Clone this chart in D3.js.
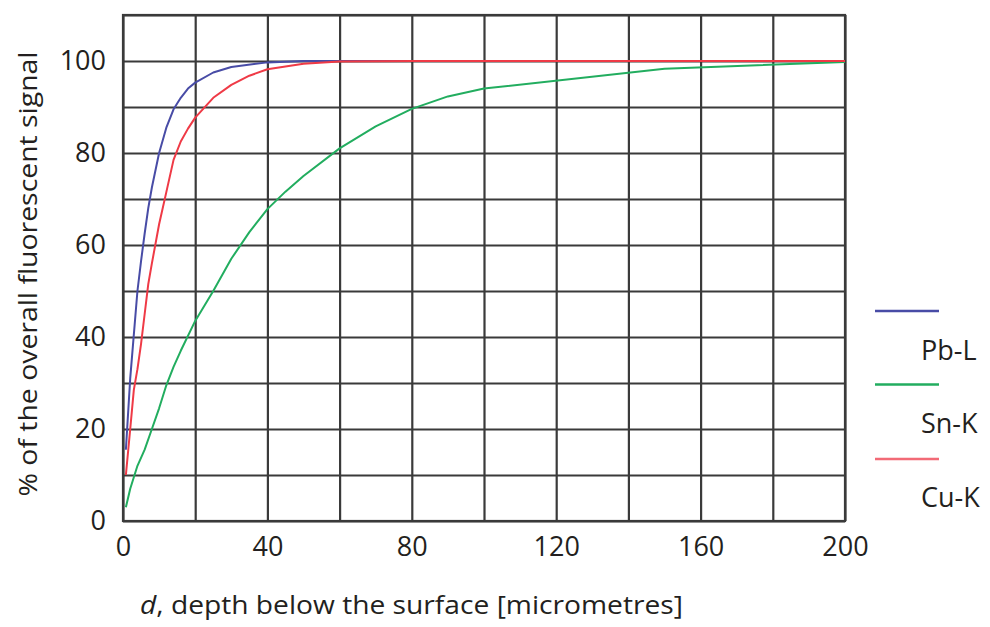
<!DOCTYPE html>
<html>
<head>
<meta charset="utf-8">
<script src="https://cdn.jsdelivr.net/npm/d3@7"></script>
<style>
  html, body { margin: 0; padding: 0; background: #fff; }
  svg { display: block; }
  text { font-family: "Open Sans", "Noto Sans", sans-serif; fill: #231f20; }
</style>
</head>
<body>
<svg id="chart" width="990" height="627"></svg>
<script>
// Depth (micrometres) and cumulative share of fluorescent signal (%) per line
const depthPb = [0.8, 2, 3, 4, 5, 6, 7, 8, 10, 12, 14, 16, 18, 20, 25, 30, 40, 50, 60, 80];
const pbL     = [15.5, 31, 40.5, 50, 56.5, 62.5, 68, 72.5, 80, 85.5, 89.5, 92, 94, 95.3, 97.5, 98.7, 99.7, 100, 100, 100];

const depthSn = [0.8, 2, 4, 6, 8, 10, 12, 14, 16, 20, 25, 30, 35, 40, 45, 50, 60, 70, 80, 90, 100, 150, 200];
const snK     = [3, 7, 12, 15.5, 20, 24.5, 29.5, 33.5, 37, 43.5, 50, 57, 62.8, 67.8, 71.6, 75, 81, 85.8, 89.6, 92.3, 94, 98.3, 99.8];

const depthCu = [0.8, 2, 3, 4, 5, 6, 7, 8, 10, 12, 14, 16, 18, 20, 25, 30, 35, 40, 50, 60, 80, 200];
const cuK     = [10, 20, 28.5, 33, 38.5, 45, 51.5, 56, 64.5, 71.5, 78.5, 82.5, 85.3, 87.7, 92, 94.8, 96.8, 98.2, 99.4, 99.9, 100, 100];

const seriesNames  = ["Pb-L", "Sn-K", "Cu-K"];
const seriesColors = ["#484ca6", "#22ad5f", "#ef3a46"];
const legendColors = ["#484ca6", "#22ad5f", "#f26a76"];

const xTickLabels = [0, 40, 80, 120, 160, 200];
const yTickLabels = [0, 20, 40, 60, 80, 100];
const xGrid = d3.range(0, 201, 20);
const yGrid = d3.range(0, 111, 10);

const xTitleLead = "d";
const xTitleRest = ", depth below the surface [micrometres]";
const yTitle = "% of the overall fluorescent signal";

const svg = d3.select("#chart");
const x = d3.scaleLinear().domain([0, 200]).range([123, 845]);
const y = d3.scaleLinear().domain([0, 110]).range([521, 15]);

const gridColor = "#3a3a3a";

// grid lines
const gx = svg.append("g").attr("transform", `translate(0,${y(0)})`)
  .call(d3.axisBottom(x).tickValues(xGrid).tickSize(-(y(0) - y(110))).tickFormat(""));
const gy = svg.append("g").attr("transform", `translate(${x(0)},0)`)
  .call(d3.axisLeft(y).tickValues(yGrid).tickSize(-(x(200) - x(0))).tickFormat(""));
[gx, gy].forEach(g => {
  g.select(".domain").remove();
  g.selectAll(".tick line").attr("stroke", gridColor).attr("stroke-width", 2.2);
});

// frame
svg.append("rect")
  .attr("x", x(0)).attr("y", y(110))
  .attr("width", x(200) - x(0)).attr("height", y(0) - y(110))
  .attr("fill", "none").attr("stroke", gridColor).attr("stroke-width", 2.2);

// tick labels
const ax = svg.append("g").attr("transform", `translate(0,${y(0)})`)
  .call(d3.axisBottom(x).tickValues(xTickLabels).tickSize(0).tickPadding(16).tickFormat(d3.format("d")));
const ay = svg.append("g").attr("transform", `translate(${x(0)},0)`)
  .call(d3.axisLeft(y).tickValues(yTickLabels).tickSize(0).tickPadding(17).tickFormat(d3.format("d")));
[ax, ay].forEach(g => {
  g.select(".domain").remove();
  g.selectAll("text")
    .attr("font-family", "'Open Sans', 'Noto Sans', sans-serif")
    .attr("font-size", 27).attr("fill", "#231f20");
});

// curves
const line = d3.line().x(d => x(d[0])).y(d => y(d[1]));
const seriesData = [
  depthPb.map((d, i) => [d, pbL[i]]),
  depthSn.map((d, i) => [d, snK[i]]),
  depthCu.map((d, i) => [d, cuK[i]])
];
[0, 1, 2].forEach(i => {
  svg.append("path")
    .datum(seriesData[i])
    .attr("d", line)
    .attr("fill", "none")
    .attr("stroke", seriesColors[i])
    .attr("stroke-width", 2)
    .attr("stroke-linejoin", "round");
});

// legend: swatch line above each label
const legendLineY = [311, 384.5, 459];
const legendTextY = [360, 433, 507];
seriesNames.forEach((name, i) => {
  svg.append("line")
    .attr("x1", 875).attr("x2", 939)
    .attr("y1", legendLineY[i]).attr("y2", legendLineY[i])
    .attr("stroke", legendColors[i]).attr("stroke-width", 2.5);
  svg.append("text")
    .attr("x", 921).attr("y", legendTextY[i])
    .attr("font-size", 27)
    .text(name);
});

// axis titles
const xt = svg.append("text")
  .attr("x", 140).attr("y", 614)
  .attr("font-size", 26)
  .attr("textLength", 543).attr("lengthAdjust", "spacingAndGlyphs");
xt.append("tspan").attr("font-style", "italic").text(xTitleLead);
xt.append("tspan").text(xTitleRest);

svg.append("text")
  .attr("transform", "translate(37,274) rotate(-90)")
  .attr("text-anchor", "middle")
  .attr("font-size", 26)
  .attr("textLength", 445).attr("lengthAdjust", "spacingAndGlyphs")
  .text(yTitle);
</script>
</body>
</html>
